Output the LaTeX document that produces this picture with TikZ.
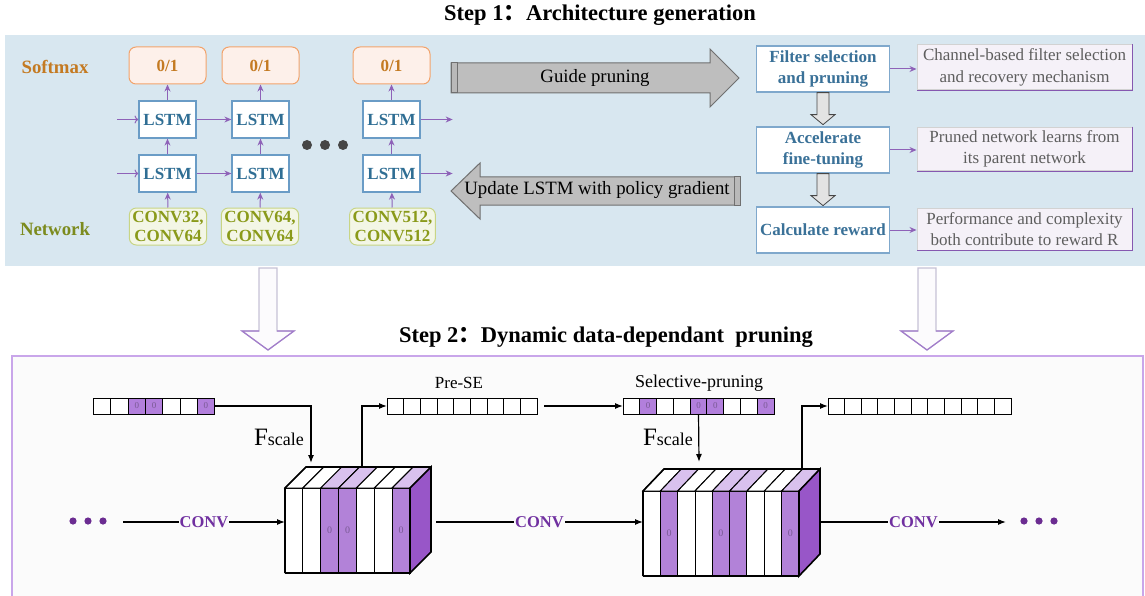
\documentclass[tikz,border=0pt]{standalone}
\usepackage{fontspec}
\setmainfont{Liberation Serif}
\newfontfamily\cjk{Noto Sans CJK SC}
\usepackage{tikz}
\usetikzlibrary{positioning, calc, arrows.meta}
\usepackage{xcolor}

\definecolor{panelblue}{HTML}{D8E7F0}
\definecolor{softline}{HTML}{F2A36B}
\definecolor{softfill}{HTML}{FDF0EA}
\definecolor{softtext}{HTML}{C47A22}
\definecolor{lstmline}{HTML}{6A9CC6}
\definecolor{lstmtext}{HTML}{2F6E94}
\definecolor{convline}{HTML}{C8D585}
\definecolor{convfill}{HTML}{F3F6E6}
\definecolor{convtext}{HTML}{8A9A1A}
\definecolor{nettext}{HTML}{7C8B1E}
\definecolor{arrpurple}{HTML}{8E62B8}
\definecolor{stageline}{HTML}{7FA8CC}
\definecolor{stagetext}{HTML}{3A7198}
\definecolor{notefill}{HTML}{F5F1F8}
\definecolor{notetext}{HTML}{5E5E5E}
\definecolor{notepurple}{HTML}{8558B0}
\definecolor{bigfill}{HTML}{BEBEBE}
\definecolor{bigline}{HTML}{707070}
\definecolor{hollowline}{HTML}{C6C2D6}
\definecolor{hollowhead}{HTML}{A27BCB}
\definecolor{bottomfill}{HTML}{FBFBFB}
\definecolor{bottomline}{HTML}{C9A6EA}
\definecolor{vecpurple}{HTML}{B27FDC}
\definecolor{slicepurple}{HTML}{B282D8}
\definecolor{toppurple}{HTML}{D9C1EE}
\definecolor{sidepurple}{HTML}{9856C8}
\definecolor{convpurple}{HTML}{7030A0}
\definecolor{dotpurple}{HTML}{6B2C91}
\definecolor{zerotext}{HTML}{7A5A95}

\newcommand{\fsz}[2]{\fontsize{#1}{#2}\selectfont}

\begin{document}
\begin{tikzpicture}[x=1pt, y=-1pt,
  prob/.style={draw=softline, line width=1pt, fill=softfill, rounded corners=7pt,
    minimum width=77pt, minimum height=37pt, text=softtext, font=\bfseries\fsz{17}{20}},
  lstm/.style={draw=lstmline, line width=1.3pt, fill=white,
    minimum width=57pt, minimum height=37pt, text=lstmtext, font=\bfseries\fsz{17}{20}},
  conv/.style={draw=convline, line width=1pt, fill=convfill, rounded corners=7pt,
    minimum height=37pt, inner xsep=3pt, inner ysep=1pt, align=center,
    text=convtext, font=\bfseries\fsz{17}{19}},
  stage/.style={draw=stageline, line width=1.3pt, fill=white, minimum width=133pt,
    minimum height=46pt, align=center, text=stagetext, font=\bfseries\fsz{17}{21}},
  note/.style={draw=gray!35, line width=1pt, fill=notefill, minimum width=215pt,
    align=center, text=notetext, font=\fsz{17}{21.5}},
  arr/.style={draw=arrpurple, line width=1pt, -{Stealth[length=7pt,width=6pt]}},
  bigarr/.style={draw=bigline, line width=1pt, fill=bigfill},
  hollow/.style={draw=hollowline, line width=1.2pt, fill=white!94!hollowline},
  cell/.style={draw, line width=1pt, minimum height=16pt, inner sep=0pt,
    outer sep=0pt, text=zerotext, font=\fsz{9}{9}},
  slice/.style={draw, line width=1pt, minimum height=85pt, inner sep=0pt,
    outer sep=0pt, text=zerotext, font=\fsz{10}{10}},
  link/.style={line width=1.2pt, -{Latex[length=8pt,width=6pt]}},
  convlbl/.style={fill=bottomfill, inner sep=1pt, text=convpurple,
    font=\bfseries\fsz{16.5}{18}},
  title/.style={font=\bfseries\fsz{22.5}{26}}
]
\useasboundingbox (0,0) rectangle (1145,596);

% ---- step 1: controller and pruning loop
\node[title] (t1) at (600,15) {Step 1{\cjk ：}Architecture generation};
\fill[panelblue] (5,35) rectangle (1145,266);

\node[font=\bfseries\fsz{18.8}{20}, text=softtext] (smx) at (55,67) {Softmax};
\node[font=\bfseries\fsz{18.8}{20}, text=nettext] (net) at (55,229) {Network};

\node[prob] (p1) at (167.5,65.5) {0/1};
\node[prob] (p2) at (260.5,65.5) {0/1};
\node[prob] (p3) at (391.5,65.5) {0/1};

\node[lstm] (lt1) at (167.5,119.5) {LSTM};
\node[lstm] (lt2) at (260.5,119.5) {LSTM};
\node[lstm] (lt3) at (391.5,119.5) {LSTM};
\node[lstm] (lb1) at (167.5,173.5) {LSTM};
\node[lstm] (lb2) at (260.5,173.5) {LSTM};
\node[lstm] (lb3) at (391.5,173.5) {LSTM};

\node[conv] (cv1) at (168,226.5) {CONV32,\\CONV64};
\node[conv] (cv2) at (260,226.5) {CONV64,\\CONV64};
\node[conv] (cv3) at (392.5,226.5) {CONV512,\\CONV512};

\foreach \k in {1,2,3} {
  \draw[arr] (cv\k) -- (lb\k);
  \draw[arr] (lb\k) -- (lt\k);
  \draw[arr] (lt\k) -- (p\k);
}
\draw[arr, <-] (lt1.west) -- ++(-21,0);
\draw[arr, <-] (lb1.west) -- ++(-21,0);
\draw[arr] (lt1) -- (lt2);
\draw[arr] (lb1) -- (lb2);
\draw[arr] (lt3.east) -- ++(32,0);
\draw[arr] (lb3.east) -- ++(32,0);
\foreach \x in {307,325,343} \fill[gray!55!black] (\x,145) circle (5);

% gray block arrows
\draw[bigarr] (451,63) -- (710,63) -- (710,49) -- (739,78) -- (710,107)
  -- (710,93) -- (451,93) -- cycle;
\draw[bigarr, fill=gray!55] (451,63) rectangle (457,93);
\node[font=\fsz{18.8}{20}] (guide) at (595,78) {Guide pruning};
\draw[bigarr] (740,177) -- (480,177) -- (480,163) -- (451,191) -- (480,219)
  -- (480,205) -- (740,205) -- cycle;
\draw[bigarr, fill=gray!55] (734,177) rectangle (740,205);
\node[font=\fsz{18.8}{20}] (update) at (597,190) {Update LSTM with policy gradient};

\node[stage] (sel) at (823,69) {Filter selection\\and pruning};
\node[stage] (acc) at (823,150) {Accelerate\\fine-tuning};
\node[stage] (rew) at (823,230) {Calculate reward};

\node[note, minimum height=45pt] (n1) at (1024.5,67.5)
  {Channel-based filter selection\\and recovery mechanism};
\node[note, minimum height=40pt] (n2) at (1024.5,149)
  {Pruned network learns from\\its parent network};
\node[note, minimum height=42pt] (n3) at (1024.5,229)
  {Performance and complexity\\both contribute to reward R};
\foreach \n in {n1,n2,n3}
  \draw[notepurple, line width=1.2pt] (\n.north east) -- (\n.south east) -- (\n.south west);

\draw[arr] (sel.east) -- (sel.east -| n1.west);
\draw[arr] (acc.east) -- (acc.east -| n2.west);
\draw[arr] (rew.east) -- (rew.east -| n3.west);

\foreach \a/\b in {sel/acc, acc/rew}
  \draw[draw=gray!55!black, fill=gray!22, line width=0.8pt] (\a.south) ++(-6,0)
    -- ++(0,22) -- ++(-6,0) -- ++(12,10) -- ++(12,-10) -- ++(-6,0) -- ++(0,-22) -- cycle;

% hand-over arrows
\foreach \x in {268,927} {
  \draw[hollow] (\x-9,268) -- (\x+9,268) -- (\x+9,331) -- (\x+26,331) -- (\x,350)
    -- (\x-26,331) -- (\x-9,331) -- cycle;
  \draw[hollowhead, line width=1.2pt] (\x+9,331) -- (\x+26,331) -- (\x,350)
    -- (\x-26,331) -- (\x-9,331);
}

% ---- step 2: dynamic pruning
\node[title] (t2) at (606,337) {Step 2{\cjk ：}Dynamic data-dependant\ \ pruning};
\draw[bottomline, line width=1.2pt, fill=bottomfill] (12,356) rectangle (1143,610);

% channel vectors
\foreach \i/\c/\t in {1/white/,2/white/,3/vecpurple/0,4/vecpurple/0,5/white/,6/white/,7/vecpurple/0}
  \node[cell, fill=\c, minimum width=17.3pt] (a\i) at ({93.5+17.3*(\i-0.5)},406) {\t};
\foreach \i in {1,...,9}
  \node[cell, fill=white, minimum width=16.67pt] (b\i) at ({387+16.67*(\i-0.5)},406) {};
\foreach \i/\c/\t in {1/white/,2/vecpurple/0,3/white/,4/white/,5/vecpurple/0,6/vecpurple/0,7/white/,8/white/,9/vecpurple/0}
  \node[cell, fill=\c, minimum width=16.78pt] (q\i) at ({623+16.78*(\i-0.5)},406) {\t};
\foreach \i in {1,...,11}
  \node[cell, fill=white, minimum width=16.64pt] (r\i) at ({828+16.64*(\i-0.5)},406) {};

\node[font=\fsz{17}{18}] (pre) at (459,383) {Pre-SE};
\node[font=\fsz{18}{19}] (spr) at (699,383) {Selective-pruning};

% first feature block
\foreach \i/\c/\tc/\t in {1/white/white/,2/white/white/,3/slicepurple/toppurple/0,4/slicepurple/toppurple/0,5/white/white/,6/white/white/,7/slicepurple/toppurple/0} {
  \node[slice, fill=\c, minimum width=17.86pt] (k\i) at ({285+17.86*(\i-0.5)},530.5) {\t};
  \filldraw[fill=\tc, line width=1pt] (k\i.north west) -- ++(21,-21) -- ++(17.86,0)
    -- (k\i.north east) -- cycle;
}
\filldraw[fill=sidepurple, line width=1.6pt] (k7.north east) -- ++(21,-21) -- ++(0,85)
  -- (k7.south east) -- cycle;
\draw[line width=1.6pt] (k1.south west) -- (k1.north west) -- ++(21,-21) -- ++(125,0);
\draw[line width=1.6pt] (k1.south west) -- (k7.south east);

% second feature block
\foreach \i/\c/\tc/\t in {1/white/white/,2/slicepurple/toppurple/0,3/white/white/,4/white/white/,5/slicepurple/toppurple/0,6/slicepurple/toppurple/,7/white/white/,8/white/white/,9/slicepurple/toppurple/0} {
  \node[slice, fill=\c, minimum width=17.33pt] (m\i) at ({643+17.33*(\i-0.5)},533.5) {\t};
  \filldraw[fill=\tc, line width=1pt] (m\i.north west) -- ++(21,-22) -- ++(17.33,0)
    -- (m\i.north east) -- cycle;
}
\filldraw[fill=sidepurple, line width=1.6pt] (m9.north east) -- ++(21,-22) -- ++(0,85)
  -- (m9.south east) -- cycle;
\draw[line width=1.6pt] (m1.south west) -- (m1.north west) -- ++(21,-22) -- ++(156,0);
\draw[line width=1.6pt] (m1.south west) -- (m9.south east);

% scaling and excitation paths
\coordinate (in1) at (311,463);
\coordinate (out1) at (362,467);
\coordinate (in2) at (699,462);
\coordinate (out2) at (802,469);
\draw[link] (a7.east) -| (in1);
\node[font=\fsz{25}{25}] (fs1) at (279,437) {F{\fsz{18}{18}scale}};
\draw[link] (out1) |- (b1.west);
\draw[link, shorten <=7pt] (b9.east) -- (q1.west);
\draw[link] (q5.south) -- (in2);
\node[font=\fsz{25}{25}] (fs2) at (668,437) {F{\fsz{18}{18}scale}};
\draw[link] (out2) |- (r1.west);

% main data flow
\foreach \x in {73,88,103} \fill[dotpurple] (\x,521) circle (3.6);
\foreach \x in {1024,1039,1054} \fill[dotpurple] (\x,521) circle (3.6);
\coordinate (lead) at (123,522);
\coordinate (mid) at (436,522);
\coordinate (tail) at (821,522);
\coordinate (trail) at (1006,522);
\draw[link] (lead) -- node[convlbl] {CONV} (lead -| k1.west);
\draw[link] (mid) -- node[convlbl] {CONV} (mid -| m1.west);
\draw[link] (tail) -- node[convlbl] {CONV} (trail);
\end{tikzpicture}
\end{document}
